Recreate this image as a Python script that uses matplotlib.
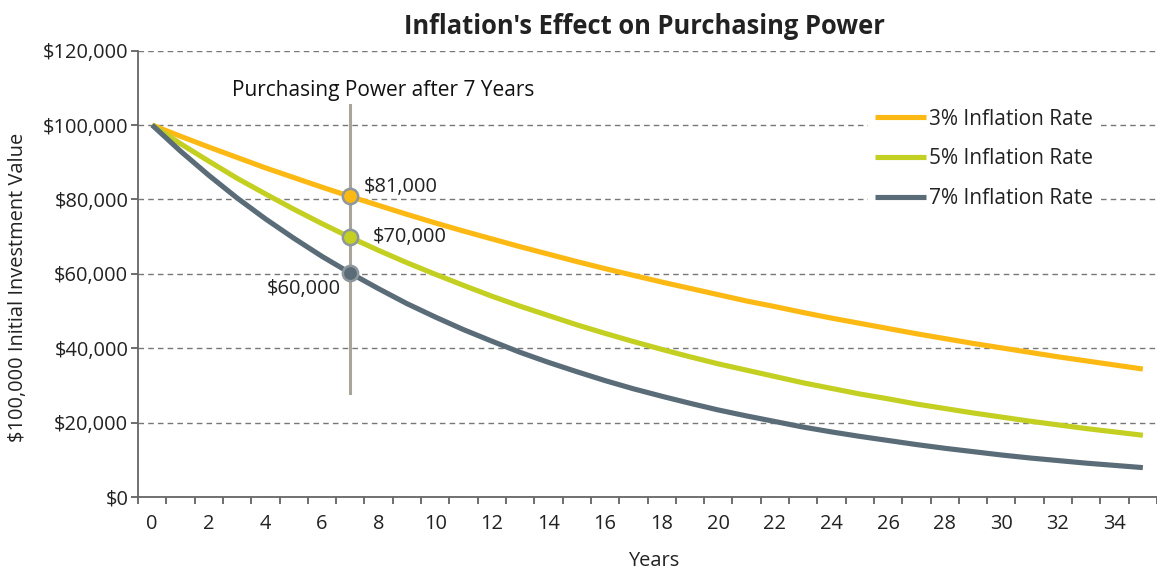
import matplotlib
matplotlib.use("Agg")
import matplotlib.pyplot as plt
from matplotlib.ticker import FuncFormatter, MultipleLocator

plt.rcParams['font.family'] = ['Open Sans', 'DejaVu Sans']

years = list(range(0, 36))
rate_3 = [100000, 97000, 94100, 91300, 88500, 85900, 83300, 80800, 78400, 76000,
          73700, 71500, 69400, 67300, 65300, 63300, 61400, 59600, 57800, 56100,
          54400, 52700, 51200, 49600, 48100, 46700, 45300, 43900, 42600, 41300,
          40100, 38900, 37700, 36600, 35500, 34400]
rate_5 = [100000, 95000, 90300, 85700, 81500, 77400, 73500, 69800, 66300, 63000,
          59900, 56900, 54000, 51300, 48800, 46300, 44000, 41800, 39700, 37700,
          35800, 34100, 32400, 30700, 29200, 27700, 26400, 25000, 23800, 22600,
          21500, 20400, 19400, 18400, 17500, 16600]
rate_7 = [100000, 93000, 86500, 80400, 74800, 69600, 64700, 60200, 56000, 52000,
          48400, 45000, 41900, 38900, 36200, 33700, 31300, 29100, 27100, 25200,
          23400, 21800, 20300, 18800, 17500, 16300, 15200, 14100, 13100, 12200,
          11300, 10500, 9800, 9100, 8500, 7900]
series_labels = ['3% Inflation Rate', '5% Inflation Rate', '7% Inflation Rate']
colors = ['#FDB913', '#C3CF21', '#5A6C78']

mark_year = 7
mark_labels = ['$81,000', '$70,000', '$60,000']
title = "Inflation's Effect on Purchasing Power"
annot_title = "Purchasing Power after 7 Years"

FS = 14.4
FS_L = 15

fig = plt.figure(figsize=(11.57, 5.69), dpi=100)
ax = fig.add_axes([138/1157, 1 - 497/569, 1 - 138/1157, (497 - 50.7)/569])

series = [rate_3, rate_5, rate_7]
for vals, lab, c in zip(series, series_labels, colors):
    ax.plot(years, vals, color=c, lw=3.7, label=lab, solid_capstyle='butt', zorder=3)

# vertical marker line
ax.plot([mark_year, mark_year], [28000, 105500], color='#A9A59D', lw=2.2, zorder=4)

# markers at year 7
for vals, c in zip(series, colors):
    ax.plot([mark_year], [vals[mark_year]], 'o', ms=11, mfc=c, mec='#8E979C', mew=1.8, zorder=5)

ax.annotate(mark_labels[0], (mark_year, rate_3[mark_year]), xytext=(10, 6.5),
            textcoords='offset points', fontsize=FS, color='#222', va='center', ha='left')
ax.annotate(mark_labels[1], (mark_year, rate_5[mark_year]), xytext=(16, 0.5),
            textcoords='offset points', fontsize=FS, color='#222', va='center', ha='left')
ax.annotate(mark_labels[2], (mark_year, rate_7[mark_year]), xytext=(-6.5, -11.5),
            textcoords='offset points', fontsize=FS, color='#222', va='center', ha='right')
ax.text(8.15, 109300, annot_title, fontsize=FS_L, color='#111', ha='center', va='center')

ax.set_xlim(-0.5, 35.25)
ax.set_ylim(0, 120000)

ax.yaxis.set_major_locator(MultipleLocator(20000))
ax.yaxis.set_major_formatter(FuncFormatter(lambda v, p: '${:,.0f}'.format(v)))
ax.set_xticks(range(0, 36, 2))
ax.set_xticks([x - 0.5 for x in range(0, 37)], minor=True)
ax.tick_params(axis='x', which='major', length=0, pad=12, labelsize=FS, colors='#222')
ax.tick_params(axis='x', which='minor', length=5, width=1.2, color='#555', direction='out')
ax.tick_params(axis='y', which='major', length=5, width=1.2, color='#555', labelsize=FS,
               pad=2, labelcolor='#222')

ax.grid(axis='y', linestyle=(0, (4, 3)), color='#777', lw=1.0, zorder=0)
for s in ['top', 'right']:
    ax.spines[s].set_visible(False)
for s in ['left', 'bottom']:
    ax.spines[s].set_color('#666')
    ax.spines[s].set_linewidth(1.3)

ax.set_xlabel('Years', fontsize=FS, color='#222', va='center', ha='center')
ax.xaxis.set_label_coords((654 - 138) / (1157 - 138), -(561 - 497) / (497 - 50.7))
ax.set_ylabel('$100,000 Initial Investment Value', fontsize=FS, color='#222', va='center', ha='center')
ax.yaxis.set_label_coords(-(138 - 18) / (1157 - 138), (497 - 287) / (497 - 50.7))

fig.suptitle(title, fontsize=18.4, fontweight='bold', color='#222', x=(644 / 1157), y=1 - 26 / 569,
             va='center')

leg = ax.legend(loc='upper left', bbox_to_anchor=((858 - 138) / (1157 - 138), (497 - 92) / (497 - 50.7)),
                frameon=True, fontsize=FS_L,
                handlelength=2.45, handletextpad=0.15, labelspacing=0.9, borderpad=0.3,
                fancybox=False)
leg.get_frame().set_edgecolor('none')
leg.get_frame().set_facecolor('white')
leg.get_frame().set_alpha(1)
for t in leg.get_texts():
    t.set_color('#222')

fig.savefig('out.png', dpi=100)
